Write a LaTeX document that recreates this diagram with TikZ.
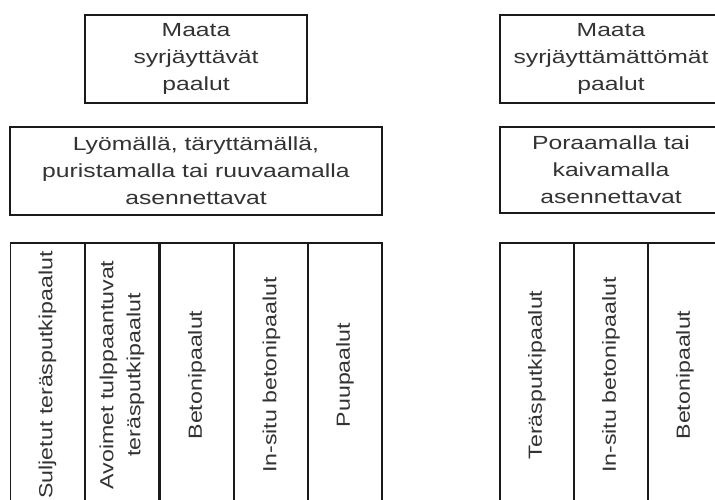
\documentclass[tikz,border=0pt]{standalone}
\usepackage{fontspec}
\setmainfont[FakeStretch=1.3]{Liberation Sans}
\newfontfamily\colfont[FakeStretch=1.22]{Liberation Sans}
\definecolor{txt}{HTML}{333333}
\definecolor{ln}{HTML}{1A1A1A}
\begin{document}
\begin{tikzpicture}[x=1pt,y=-1pt,
  box/.style={draw=ln,line width=1.8pt,inner sep=0pt,align=center,text=txt,
    font=\fontsize{19}{27}\selectfont},
  col/.style={box,rotate=90,minimum width=264pt,minimum height=74pt,
    font=\colfont\fontsize{19}{27}\selectfont}]
\clip (0,0) rectangle (715,499);
\fill[white] (0,0) rectangle (715,499);
% left group
\node[box,minimum width=222pt,minimum height=88pt] (l1) at (196,59) {Maata\\syrjäyttävät\\paalut};
\node[box,minimum width=372pt,minimum height=88pt] (l2) at (196,171) {Lyömällä, täryttämällä,\\puristamalla tai ruuvaamalla\\asennettavat};
\node[col] (c1) at (47.5,375) {Suljetut teräsputkipaalut};
\node[col] (c2) at (122,375) {Avoimet tulppaantuvat\\teräsputkipaalut};
\node[col] (c3) at (197,375) {Betonipaalut};
\node[col] (c4) at (271.5,375) {In-situ betonipaalut};
\node[col] (c5) at (345,375) {Puupaalut};
% right group
\node[box,minimum width=222pt,minimum height=88pt] (r1) at (611,59) {Maata\\syrjäyttämättömät\\paalut};
\node[box,minimum width=222pt,minimum height=86pt] (r2) at (611,170) {Poraamalla tai\\kaivamalla\\asennettavat};
\node[col] (d1) at (537,375) {Teräsputkipaalut};
\node[col] (d2) at (611,375) {In-situ betonipaalut};
\node[col] (d3) at (685,375) {Betonipaalut};
\end{tikzpicture}
\end{document}
